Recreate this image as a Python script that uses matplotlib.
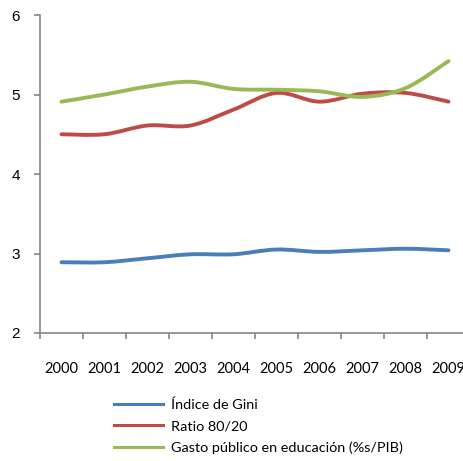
import numpy as np
import matplotlib
matplotlib.use("Agg")
import matplotlib.pyplot as plt
from matplotlib.path import Path
from matplotlib.patches import PathPatch
from matplotlib.lines import Line2D

years = ["2000", "2001", "2002", "2003", "2004", "2005", "2006", "2007", "2008", "2009"]
gini = [2.89, 2.89, 2.94, 2.99, 2.99, 3.05, 3.02, 3.04, 3.06, 3.04]
ratio_80_20 = [4.50, 4.50, 4.61, 4.61, 4.81, 5.02, 4.91, 5.01, 5.02, 4.91]
gasto_educ = [4.91, 5.00, 5.10, 5.16, 5.07, 5.06, 5.04, 4.97, 5.08, 5.42]

series = [
    ("Índice de Gini", gini, "#4A7EBB"),
    ("Ratio 80/20", ratio_80_20, "#BE4B48"),
    ("Gasto público en educación (%s/PIB)", gasto_educ, "#98B954"),
]


def smooth_path(xs, ys):
    """Catmull-Rom style cubic Bezier through the points (like a smoothed line)."""
    pts = np.column_stack([xs, ys]).astype(float)
    n = len(pts)
    verts = [pts[0]]
    codes = [Path.MOVETO]
    for i in range(n - 1):
        p0 = pts[max(i - 1, 0)]
        p1 = pts[i]
        p2 = pts[i + 1]
        p3 = pts[min(i + 2, n - 1)]
        c1 = p1 + (p2 - p0) / 6.0
        c2 = p2 - (p3 - p1) / 6.0
        verts += [c1, c2, p2]
        codes += [Path.CURVE4] * 3
    return Path(verts, codes)


fig = plt.figure(figsize=(4.64, 4.61), dpi=100)
ax = fig.add_axes([40 / 464, 128 / 461, 430 / 464, 318 / 461])

x = np.arange(len(years))
handles = []
for label, vals, color in series:
    patch = PathPatch(smooth_path(x, vals), facecolor="none", edgecolor=color,
                      linewidth=2.8, capstyle="round", joinstyle="round")
    ax.add_patch(patch)
    handles.append(Line2D([], [], color=color, linewidth=2.2, label=label))

ax.set_xlim(-0.5, len(years) - 0.5)
ax.set_ylim(2, 6)
ax.set_yticks([2, 3, 4, 5, 6])
ax.set_yticklabels(["2", "3", "4", "5", "6"], fontfamily="Liberation Sans", fontsize=11)
ax.set_xticks(x)
ax.set_xticklabels(years, fontfamily="Lato", fontsize=10.5)
ax.set_xticks(np.arange(-0.5, len(years)), minor=True)

for side in ["top", "right"]:
    ax.spines[side].set_visible(False)
for side in ["left", "bottom"]:
    ax.spines[side].set_color("#868686")
    ax.spines[side].set_linewidth(1.2)

ax.tick_params(axis="x", which="major", length=0, pad=21)
ax.tick_params(axis="x", which="minor", length=4, width=1.2, color="#868686")
ax.tick_params(axis="y", length=4, width=1.2, color="#868686", pad=10.5)

fig.legend(handles=handles, loc="upper left", bbox_to_anchor=(104 / 464, 1 - 388 / 461),
           frameon=False, prop={"family": "Lato", "size": 10.4},
           handlelength=3.4, handletextpad=0.55, labelspacing=0.65, borderpad=0.2)

fig.savefig("out.png", dpi=100)
